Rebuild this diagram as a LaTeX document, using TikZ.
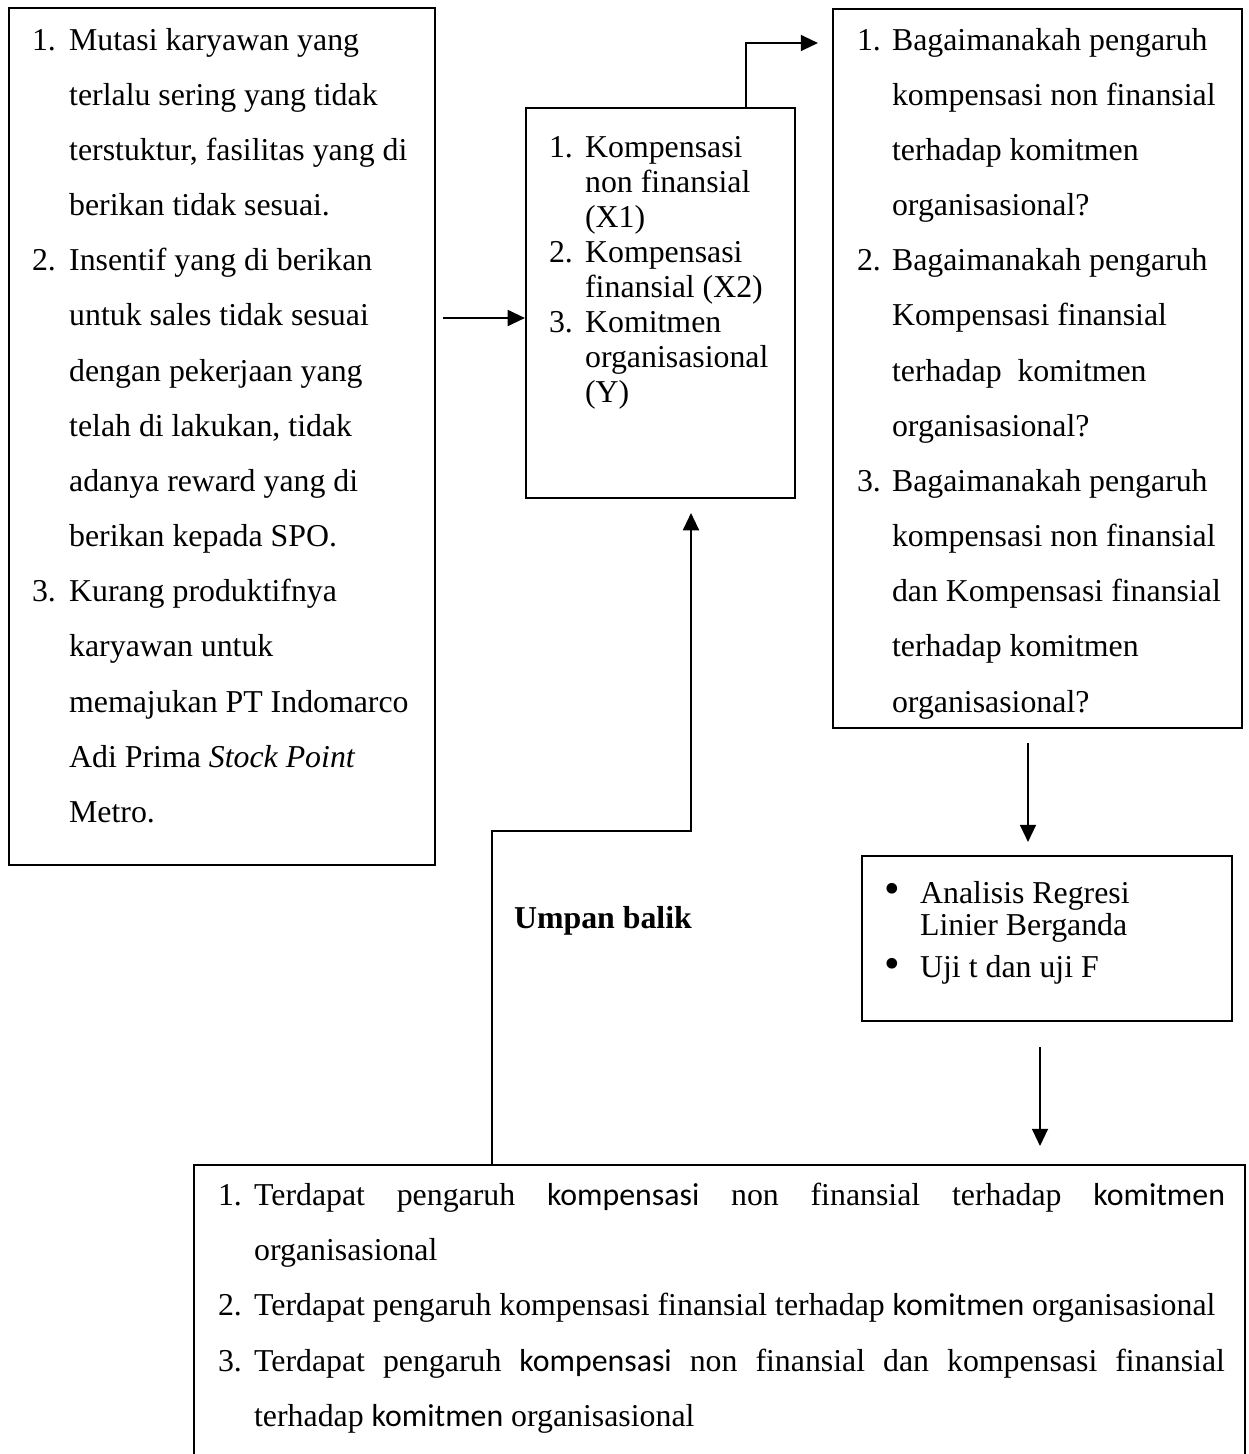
\documentclass[tikz,border=0pt]{standalone}
\usepackage{fontspec}
\setmainfont{Liberation Serif}[BoldFont={Liberation Serif Bold}, ItalicFont={Liberation Serif Italic}]
\newfontfamily\calibri{Carlito}
\usetikzlibrary{arrows.meta,fit}

\newlength{\nmw}
\newcommand{\nm}[1]{\makebox[\nmw][l]{#1}}
\newcommand{\ind}{\hspace*{\nmw}}
\newcommand{\titik}{\raisebox{-0.3pt}{\scalebox{1.4}{\textbullet}}}
% width, line skip, hanging indent, lines
\newcommand{\isi}[4]{\parbox[t]{#1}{\fontsize{12}{#2}\selectfont\setlength{\nmw}{#3}#4}}

\begin{document}
\begin{tikzpicture}[x=0.377pt, y=-0.377pt, thick]
\tikzstyle{kotak} = [draw, inner sep=0pt]
\tikzstyle{teks} = [anchor=base west, inner sep=0pt]
\tikzstyle{panah} = [-{Triangle[length=6.5pt, width=6pt]}]
\useasboundingbox (0,0) rectangle (1248,1454);

% boxes
\node[kotak, fit={(9,8) (435,865)}] (masalah) {};
\node[kotak, fit={(526,108) (795,498)}] (variabel) {};
\node[kotak, fit={(833,9) (1242,728)}] (rumusan) {};
\node[kotak, fit={(862,856) (1232,1021)}] (analisis) {};
\node[kotak, fit={(194,1165) (1245,1475)}] (hasil) {};

% texts
\node[teks] (masalah-isi) at (31,50) {\isi{170pt}{20.8pt}{14pt}{%
\nm{1.}Mutasi karyawan yang\\
\ind terlalu sering yang tidak\\
\ind terstuktur, fasilitas yang di\\
\ind berikan tidak sesuai.\\
\nm{2.}Insentif yang di berikan\\
\ind untuk sales tidak sesuai\\
\ind dengan pekerjaan yang\\
\ind telah di lakukan, tidak\\
\ind adanya reward yang di\\
\ind berikan kepada SPO.\\
\nm{3.}Kurang produktifnya\\
\ind karyawan untuk\\
\ind memajukan PT Indomarco\\
\ind Adi Prima \textit{Stock Point}\\
\ind Metro.}};

\node[teks] (variabel-isi) at (548,157) {\isi{110pt}{13.2pt}{13.6pt}{%
\nm{1.}Kompensasi\\
\ind non finansial\\
\ind (X1)\\
\nm{2.}Kompensasi\\
\ind finansial (X2)\\
\nm{3.}Komitmen\\
\ind organisasional\\
\ind (Y)}};

\node[teks] (rumusan-isi) at (856,50) {\isi{160pt}{20.8pt}{13.2pt}{%
\nm{1.}Bagaimanakah pengaruh\\
\ind kompensasi non finansial\\
\ind terhadap komitmen\\
\ind organisasional?\\
\nm{2.}Bagaimanakah pengaruh\\
\ind Kompensasi finansial\\
\ind terhadap\ \ komitmen\\
\ind organisasional?\\
\nm{3.}Bagaimanakah pengaruh\\
\ind kompensasi non finansial\\
\ind dan Kompensasi finansial\\
\ind terhadap komitmen\\
\ind organisasional?}};

\node[teks] (analisis-isi) at (883,903) {\isi{130pt}{12.4pt}{13.6pt}{%
\nm{\titik}Analisis Regresi\\
\ind Linier Berganda\\[3.2pt]
\nm{\titik}Uji t dan uji F}};

\node[teks] (hasil-isi) at (217,1205) {\isi{400pt}{20.9pt}{13.6pt}{%
\nm{1.}\makebox[366pt][s]{Terdapat pengaruh {\calibri kompensasi} non finansial terhadap {\calibri komitmen}}\\
\ind organisasional\\
\nm{2.}Terdapat pengaruh kompensasi finansial terhadap {\calibri komitmen} organisasional\\
\nm{3.}\makebox[366pt][s]{Terdapat pengaruh {\calibri kompensasi} non finansial dan kompensasi finansial}\\
\ind terhadap {\calibri komitmen} organisasional}};

\node[teks, font=\fontsize{12}{14}\selectfont\bfseries] (umpan) at (513,928) {Umpan balik};

% connectors
\coordinate (a1) at (443,318);
\draw[panah] (a1) -- (a1 -| variabel.west);
\coordinate (a2) at (673,108);
\coordinate (a3) at (818,43);
\draw[panah] (a2) -- ++(73,0) |- (a3);
\coordinate (a4) at (1028,743);
\coordinate (a5) at (1028,842);
\draw[panah] (a4) -- (a5);
\coordinate (a6) at (1040,1047);
\coordinate (a7) at (1040,1146);
\draw[panah] (a6) -- (a7);
\coordinate (u1) at (492,1165);
\coordinate (u2) at (691,513);
\draw[panah] (u1) -- ++(0,-334) -| (u2);
\end{tikzpicture}
\end{document}
